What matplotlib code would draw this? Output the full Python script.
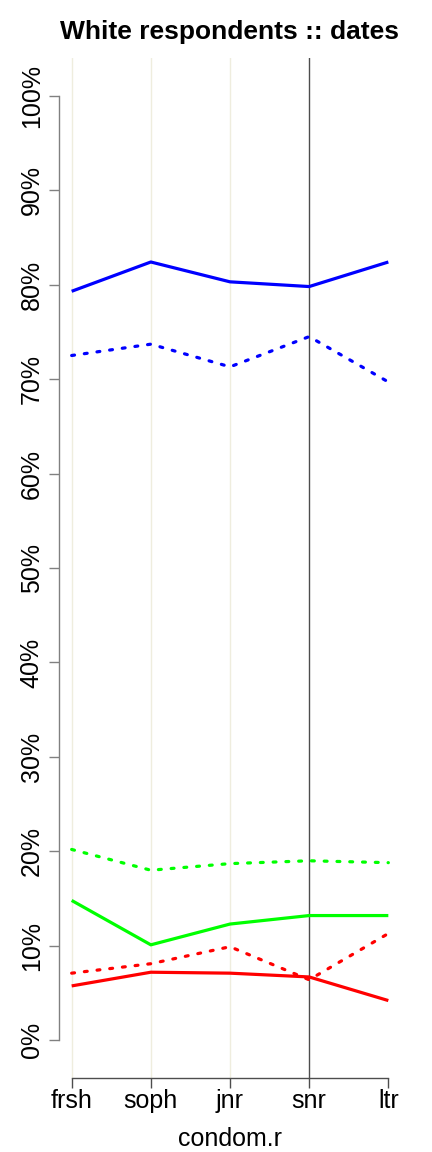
import matplotlib
matplotlib.use("Agg")
import matplotlib.pyplot as plt

categories = ["frsh", "soph", "jnr", "snr", "ltr"]
blue_solid = [79.3, 82.4, 80.3, 79.8, 82.4]
blue_dashed = [72.5, 73.7, 71.3, 74.5, 69.7]
green_dashed = [20.2, 18.0, 18.7, 19.0, 18.8]
green_solid = [14.8, 10.1, 12.3, 13.2, 13.2]
red_dashed = [7.1, 8.1, 9.9, 6.4, 11.3]
red_solid = [5.75, 7.2, 7.1, 6.7, 4.2]
yticks = [0, 10, 20, 30, 40, 50, 60, 70, 80, 90, 100]
ytick_labels = [f"{v}%" for v in yticks]

plt.rcParams['font.family'] = ['Liberation Sans', 'DejaVu Sans']

W, H = 432, 1152
fig = plt.figure(figsize=(W / 100, H / 100), dpi=100)
ax = fig.add_axes([59 / W, 1 - 1078 / H, (401 - 59) / W, (1078 - 58) / H])

x = list(range(1, len(categories) + 1))
ax.set_xlim(0.84, 5.16)
ax.set_ylim(-4, 104)

# vertical reference lines
for xi, c in zip(x, categories):
    col = "#4d4d4d" if c == "snr" else "#efedde"
    if c == "ltr":
        continue
    ax.axvline(xi, color=col, lw=1.0, zorder=1)

lw = 2.3
series = [
    (blue_solid, "#0000ff", "-"),
    (blue_dashed, "#0000ff", "--"),
    (green_dashed, "#00ff00", "--"),
    (green_solid, "#00ff00", "-"),
    (red_dashed, "#ff0000", "--"),
    (red_solid, "#ff0000", "-"),
]
for vals, col, ls in series:
    if ls == "-":
        ax.plot(x, vals, color=col, lw=lw, solid_capstyle="butt", zorder=3)
    else:
        ln, = ax.plot(x, vals, color=col, lw=lw, zorder=3,
                      dash_capstyle="round")
        ln.set_dashes((0.9, 3.1))

for s in ["top", "right"]:
    ax.spines[s].set_visible(False)
ax.spines["left"].set_bounds(0, 100)
ax.spines["bottom"].set_bounds(1, 5)
ax.spines["left"].set_color("#808080")
ax.spines["bottom"].set_color("#4d4d4d")
ax.spines["left"].set_linewidth(1.0)
ax.spines["bottom"].set_linewidth(1.0)

ax.set_yticks(yticks)
ax.set_yticklabels(ytick_labels, rotation=90, va="center", fontsize=18)
ax.set_xticks(x)
ax.set_xticklabels(categories, fontsize=18)
ax.tick_params(axis="y", length=7, width=1.0, color="#808080", pad=4)
ax.tick_params(axis="x", length=7, width=1.0, color="#4d4d4d", pad=1)

ax.set_xlabel("condom.r", fontsize=18, labelpad=10)
fig.text(229 / W, 1 - 32 / H, "White respondents :: dates", ha="center",
         va="center", fontsize=19, fontweight="bold")

fig.savefig("out.png", dpi=100)
